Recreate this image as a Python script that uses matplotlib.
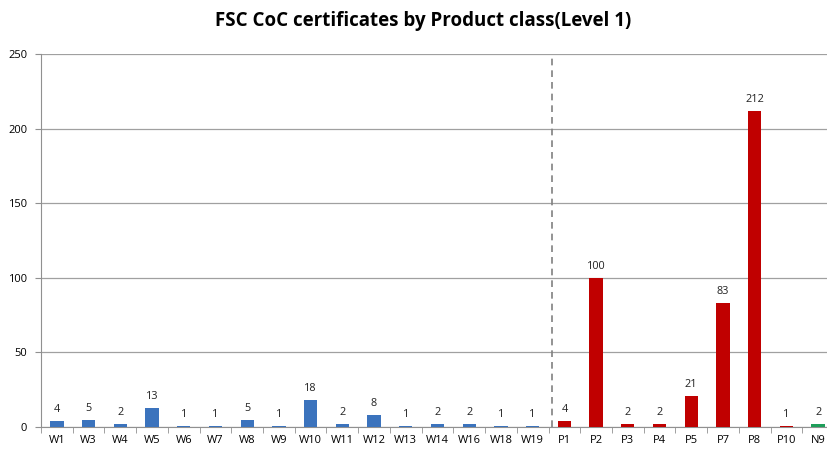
import matplotlib.pyplot as plt
import numpy as np

plt.rcParams['font.family'] = ['Open Sans', 'DejaVu Sans']

labels = ['W1', 'W3', 'W4', 'W5', 'W6', 'W7', 'W8', 'W9', 'W10', 'W11', 'W12', 'W13',
          'W14', 'W16', 'W18', 'W19', 'P1', 'P2', 'P3', 'P4', 'P5', 'P7', 'P8', 'P10', 'N9']
values = [4, 5, 2, 13, 1, 1, 5, 1, 18, 2, 8, 1, 2, 2, 1, 1,
          4, 100, 2, 2, 21, 83, 212, 1, 2]
groups = ['W'] * 16 + ['P'] * 8 + ['N']
colors = {'W': '#3b73bd', 'P': '#c00000', 'N': '#1e9e5a'}

fig = plt.figure(figsize=(8.27, 4.49), dpi=100)
ax = fig.add_axes([41 / 827, 22 / 449, 793 / 827, 373 / 449])

x = np.arange(len(labels))
ax.bar(x, values, width=0.42, color=[colors[g] for g in groups], zorder=3)
for xi, v in zip(x, values):
    ax.text(xi, v + 4, str(v), ha='center', va='bottom', fontsize=7.8, color='#222222')

ax.axvline(15.6, color='#808080', linestyle=(0, (4, 3)), linewidth=1.2, zorder=2)

ax.set_xlim(-0.5, len(labels) - 0.5)
ax.set_ylim(0, 250)
ax.set_yticks(range(0, 251, 50))
ax.yaxis.grid(True, color='#a0a0a0', linewidth=0.9, zorder=0)
ax.set_xticks(x)
ax.set_xticklabels(labels, fontsize=8)
ax.set_xticks(np.arange(-0.5, len(labels), 1), minor=True)
ax.tick_params(axis='x', which='major', length=0, pad=6)
ax.tick_params(axis='x', which='minor', length=4, color='#909090')
ax.tick_params(axis='y', labelsize=8, length=4, color='#909090', pad=6)

for s in ['top', 'right']:
    ax.spines[s].set_visible(False)
for s in ['left', 'bottom']:
    ax.spines[s].set_color('#909090')

fig.suptitle('FSC CoC certificates by Product class(Level 1)', x=0.512, y=0.975,
             fontsize=13.5, fontweight='bold')

fig.savefig('out.png', dpi=100)
